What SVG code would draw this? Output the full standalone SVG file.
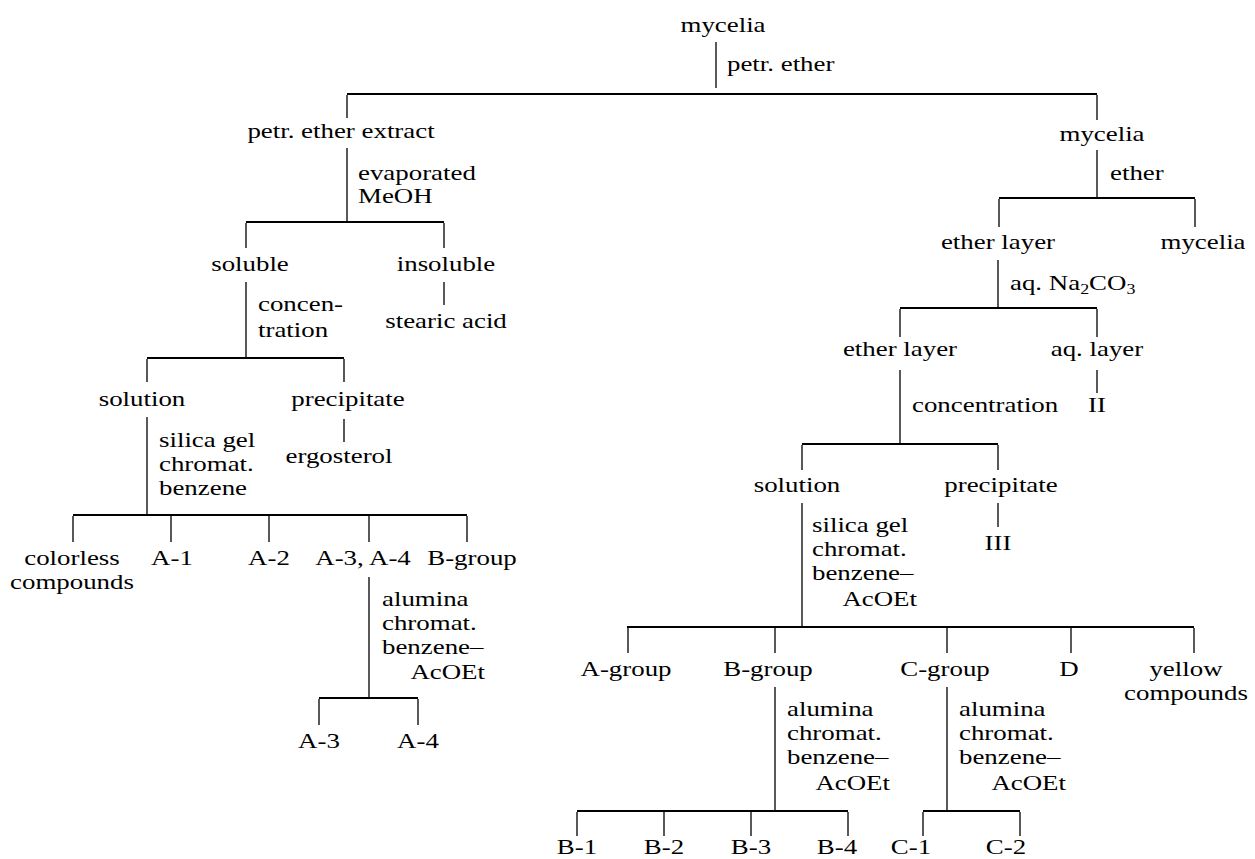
<svg xmlns="http://www.w3.org/2000/svg" width="1255" height="859" viewBox="0 0 1255 859">
<style>
.t{font-family:"Liberation Serif","Times New Roman",serif;font-size:21px;fill:#000}
.m{text-anchor:middle}
.e{text-anchor:end}
.v{stroke:#000;stroke-width:1.3;fill:none}
.h{stroke:#000;stroke-width:2;fill:none}
</style>
<rect width="1255" height="859" fill="#fff"/>
<g id="connectors">
<path class="v" d="M716 42V88"/>
<path class="h" d="M347 94H1097"/>
<path class="v" d="M347 95V118M347 148V221"/>
<path class="h" d="M246 222H444"/>
<path class="v" d="M246 223V248M444 223V248M246 282V357M444 282V305"/>
<path class="h" d="M147 358H344"/>
<path class="v" d="M147 359V382M344 359V382M147 417V514M344 419V442"/>
<path class="h" d="M73 515H467"/>
<path class="v" d="M73 516V542M171 516V542M269 516V542M369 516V542M467 516V542M369 577V697"/>
<path class="h" d="M319 698H418"/>
<path class="v" d="M319 699V725M418 699V725"/>
<path class="v" d="M1097 95V120M1097 150V197"/>
<path class="h" d="M999 198H1195"/>
<path class="v" d="M999 199V227M1195 199V227M998 260V307"/>
<path class="h" d="M900 308H1097"/>
<path class="v" d="M900 309V337M1097 309V337M900 370V443M1097 370V393"/>
<path class="h" d="M802 444H998"/>
<path class="v" d="M802 445V470M998 445V470M802 503V626M998 503V527"/>
<path class="h" d="M627 627H1194"/>
<path class="v" d="M628 628V653M775 628V653M947 628V653M1071 628V653M1194 628V653M775 687V810M947 687V810"/>
<path class="h" d="M577 811H848M923 811H1020"/>
<path class="v" d="M577 812V836M664 812V836M751 812V836M848 812V836M923 812V836M1020 812V836"/>
</g>
<g id="n-mycelia"><text class="t m" transform="translate(723,32) scale(1.28,1)">mycelia</text></g>
<g id="l-petr"><text class="t" transform="translate(727,71) scale(1.28,1)">petr. ether</text></g>
<g id="n-petr-extract"><text class="t m" transform="translate(341,138) scale(1.28,1)">petr. ether extract</text></g>
<g id="l-evap"><text class="t" transform="translate(358,180) scale(1.28,1)"><tspan x="0">evaporated</tspan><tspan x="0" dy="23">MeOH</tspan></text></g>
<g id="n-soluble"><text class="t m" transform="translate(250,271) scale(1.28,1)">soluble</text></g>
<g id="n-insoluble"><text class="t m" transform="translate(446,271) scale(1.28,1)">insoluble</text></g>
<g id="l-conc1"><text class="t" transform="translate(258,311) scale(1.28,1)"><tspan x="0">concen-</tspan><tspan x="0" dy="26">tration</tspan></text></g>
<g id="n-stearic"><text class="t m" transform="translate(446,328) scale(1.28,1)">stearic acid</text></g>
<g id="n-solution1"><text class="t m" transform="translate(142,406) scale(1.28,1)">solution</text></g>
<g id="n-precip1"><text class="t m" transform="translate(348,406) scale(1.28,1)">precipitate</text></g>
<g id="l-silica1"><text class="t" transform="translate(159,447) scale(1.28,1)"><tspan x="0">silica gel</tspan><tspan x="0" dy="24">chromat.</tspan><tspan x="0" dy="24">benzene</tspan></text></g>
<g id="n-ergosterol"><text class="t m" transform="translate(339,463) scale(1.28,1)">ergosterol</text></g>
<g id="n-colorless"><text class="t m" transform="translate(72,565) scale(1.28,1)"><tspan x="0">colorless</tspan><tspan x="0" dy="24">compounds</tspan></text></g>
<g id="n-A1"><text class="t m" transform="translate(172,565) scale(1.28,1)">A-1</text></g>
<g id="n-A2"><text class="t m" transform="translate(269,565) scale(1.28,1)">A-2</text></g>
<g id="n-A34"><text class="t m" transform="translate(363,565) scale(1.28,1)">A-3, A-4</text></g>
<g id="n-Bgroup1"><text class="t m" transform="translate(472,565) scale(1.28,1)">B-group</text></g>
<g id="l-alumina1"><text class="t" transform="translate(382,606) scale(1.28,1)"><tspan x="0">alumina</tspan><tspan x="0" dy="24">chromat.</tspan><tspan x="0" dy="24">benzene–</tspan></text><text class="t e" transform="translate(485,679) scale(1.28,1)">AcOEt</text></g>
<g id="n-A3"><text class="t m" transform="translate(319,748) scale(1.28,1)">A-3</text></g>
<g id="n-A4"><text class="t m" transform="translate(418,748) scale(1.28,1)">A-4</text></g>
<g id="n-mycelia2"><text class="t m" transform="translate(1102,141) scale(1.28,1)">mycelia</text></g>
<g id="l-ether"><text class="t" transform="translate(1110,180) scale(1.28,1)">ether</text></g>
<g id="n-etherlayer1"><text class="t m" transform="translate(998,249) scale(1.28,1)">ether layer</text></g>
<g id="n-mycelia3"><text class="t m" transform="translate(1203,249) scale(1.28,1)">mycelia</text></g>
<g id="l-na2co3"><text class="t" transform="translate(1010,290) scale(1.28,1)">aq. Na<tspan font-size="14" dy="4">2</tspan><tspan dy="-4">CO</tspan><tspan font-size="14" dy="4">3</tspan></text></g>
<g id="n-etherlayer2"><text class="t m" transform="translate(900,356) scale(1.28,1)">ether layer</text></g>
<g id="n-aqlayer"><text class="t m" transform="translate(1097,356) scale(1.28,1)">aq. layer</text></g>
<g id="l-conc2"><text class="t" transform="translate(912,412) scale(1.28,1)">concentration</text></g>
<g id="n-II"><text class="t m" transform="translate(1097,412) scale(1.28,1)">II</text></g>
<g id="n-solution2"><text class="t m" transform="translate(797,492) scale(1.28,1)">solution</text></g>
<g id="n-precip2"><text class="t m" transform="translate(1001,492) scale(1.28,1)">precipitate</text></g>
<g id="l-silica2"><text class="t" transform="translate(812,532) scale(1.28,1)"><tspan x="0">silica gel</tspan><tspan x="0" dy="24">chromat.</tspan><tspan x="0" dy="24">benzene–</tspan></text><text class="t e" transform="translate(917,606) scale(1.28,1)">AcOEt</text></g>
<g id="n-III"><text class="t m" transform="translate(998,550) scale(1.28,1)">III</text></g>
<g id="n-Agroup"><text class="t m" transform="translate(626,676) scale(1.28,1)">A-group</text></g>
<g id="n-Bgroup2"><text class="t m" transform="translate(768,676) scale(1.28,1)">B-group</text></g>
<g id="n-Cgroup"><text class="t m" transform="translate(945,676) scale(1.28,1)">C-group</text></g>
<g id="n-D"><text class="t m" transform="translate(1069,676) scale(1.28,1)">D</text></g>
<g id="n-yellow"><text class="t m" transform="translate(1186,676) scale(1.28,1)"><tspan x="0">yellow</tspan><tspan x="0" dy="24">compounds</tspan></text></g>
<g id="l-alumina2"><text class="t" transform="translate(787,716) scale(1.28,1)"><tspan x="0">alumina</tspan><tspan x="0" dy="24">chromat.</tspan><tspan x="0" dy="24">benzene–</tspan></text><text class="t e" transform="translate(890,790) scale(1.28,1)">AcOEt</text></g>
<g id="l-alumina3"><text class="t" transform="translate(959,716) scale(1.28,1)"><tspan x="0">alumina</tspan><tspan x="0" dy="24">chromat.</tspan><tspan x="0" dy="24">benzene–</tspan></text><text class="t e" transform="translate(1066,790) scale(1.28,1)">AcOEt</text></g>
<g id="n-B1"><text class="t m" transform="translate(577,854) scale(1.28,1)">B-1</text></g>
<g id="n-B2"><text class="t m" transform="translate(664,854) scale(1.28,1)">B-2</text></g>
<g id="n-B3"><text class="t m" transform="translate(751,854) scale(1.28,1)">B-3</text></g>
<g id="n-B4"><text class="t m" transform="translate(837,854) scale(1.28,1)">B-4</text></g>
<g id="n-C1"><text class="t m" transform="translate(911,854) scale(1.28,1)">C-1</text></g>
<g id="n-C2"><text class="t m" transform="translate(1006,854) scale(1.28,1)">C-2</text></g>
</svg>
